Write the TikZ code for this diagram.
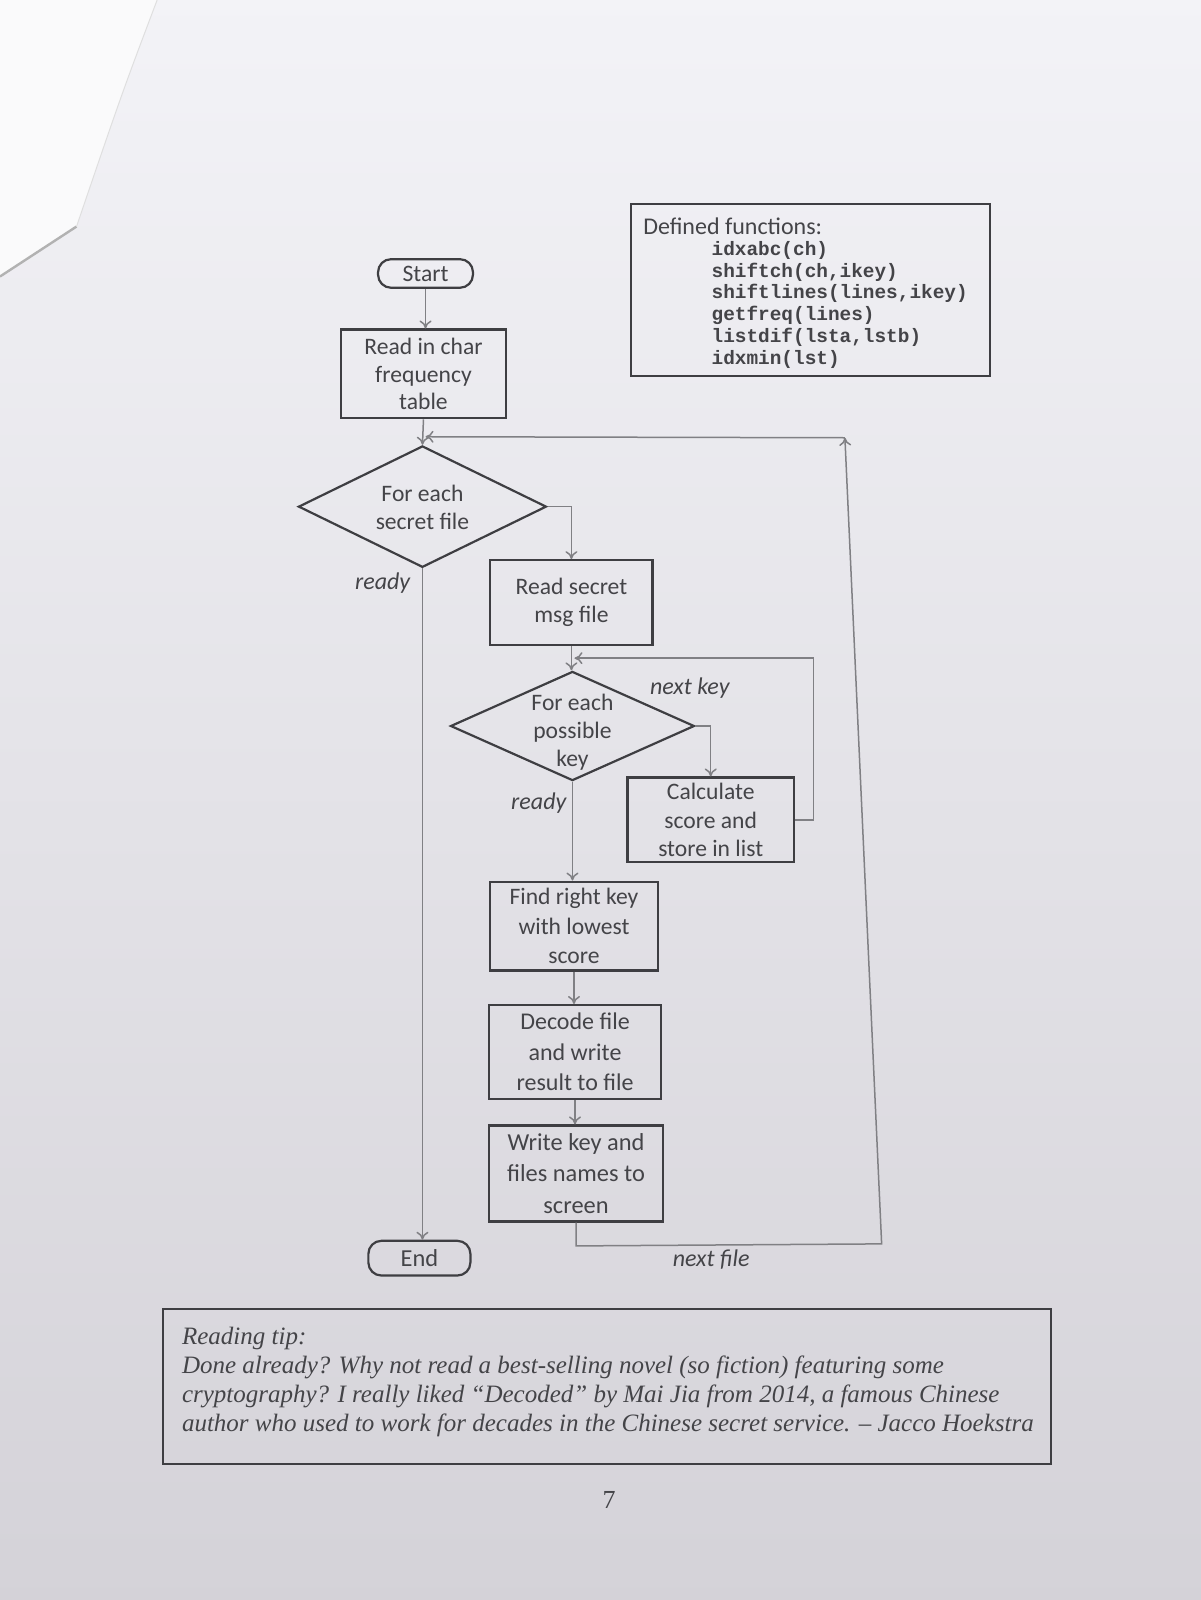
\documentclass[tikz,border=0pt]{standalone}
\usepackage{fontspec}
\setmainfont{Carlito}
\newfontfamily\tipfont{Liberation Serif}
\newfontfamily\codefont{Liberation Mono}
\usetikzlibrary{shapes.geometric,arrows.meta}
\newlength\dpx
\setlength\dpx{0.5102pt}
\definecolor{boxc}{RGB}{62,62,66}
\definecolor{txtc}{RGB}{68,68,72}
\definecolor{linec}{RGB}{128,128,132}
\definecolor{bgtop}{RGB}{243,243,247}
\definecolor{bgbot}{RGB}{212,210,216}
\begin{document}
\begin{tikzpicture}[x=0.5102pt, y=-0.5102pt,
  box/.style={draw=boxc, line width=1.1pt, inner sep=0pt, align=center, text=txtc,
    font=\fontsize{11.8}{13.8}\selectfont},
  term/.style={box, rounded corners=6.5pt},
  dia/.style={draw=boxc, line width=1.1pt, diamond, inner sep=0pt},
  txt/.style={inner sep=0pt, align=center, text=txtc, font=\fontsize{11.8}{14}\selectfont},
  conn/.style={draw=linec, line width=0.75pt},
  arr/.style={conn, -{To[length=4pt,width=6pt]}},
  lbl/.style={inner sep=0pt, text=txtc, font=\itshape\fontsize{12}{14}\selectfont},
  tipline/.style={inner sep=0pt, anchor=base west, text=txtc, font=\tipfont\itshape\fontsize{12.5}{15}\selectfont}]
\useasboundingbox (0,0) rectangle (1176,1568);
% background (photographed page)
\shade[top color=bgtop, bottom color=bgbot] (-10,-10) rectangle (1190,1580);
\fill[white!55!bgtop] (0,0) -- (154,0) .. controls (120,90) .. (75,222) -- (0,271) -- cycle;
\draw[gray!60, line width=1.2pt] (75,222) -- (0,271);
\draw[gray!25, line width=0.5pt] (154,0) .. controls (120,90) .. (75,222);

% defined functions box
\node[draw=boxc, line width=1pt, inner sep=0pt, minimum width=352\dpx, minimum height=168\dpx] (defbox) at (794,284) {};
\node[inner sep=0pt, anchor=west, text=txtc, font=\fontsize{12}{14}\selectfont] (deft) at (630,222) {Defined functions:};
\node[inner sep=0pt, anchor=north west, align=left, text=txtc, font=\codefont\bfseries\fontsize{9.7}{10.9}\selectfont] (code) at (697,236)
  {idxabc(ch)\\shiftch(ch,ikey)\\shiftlines(lines,ikey)\\getfreq(lines)\\listdif(lsta,lstb)\\idxmin(lst)};

% flowchart nodes
\node[term, minimum width=93\dpx, minimum height=28\dpx] (start) at (417,268) {Start};
\node[box, minimum width=162\dpx, minimum height=87\dpx] (readfreq) at (415,366.5) {Read in char\\frequency\\table};
\node[dia, minimum width=243\dpx, minimum height=119\dpx] (d1) at (414,496.5) {};
\node[txt] (d1t) at (414,497) {For each\\secret file};
\node[box, minimum width=159\dpx, minimum height=83\dpx] (readmsg) at (560,590.5) {Read secret\\msg file};
\node[dia, minimum width=239\dpx, minimum height=107\dpx] (d2) at (561,711.5) {};
\node[txt] (d2t) at (561,718) {For each\\possible\\key};
\node[box, minimum width=163\dpx, minimum height=83\dpx, font=\fontsize{11.8}{14.3}\selectfont] (calc) at (696.5,803.5) {Calculate\\score and\\store in list};
\node[box, minimum width=165\dpx, minimum height=87\dpx, font=\fontsize{11.8}{14.8}\selectfont] (find) at (562.5,907.5) {Find right key\\with lowest\\score};
\node[box, minimum width=169\dpx, minimum height=92\dpx, font=\fontsize{12}{15.3}\selectfont] (decode) at (563.5,1031) {Decode file\\and write\\result to file};
\node[box, minimum width=171\dpx, minimum height=94\dpx, font=\fontsize{12.2}{15.8}\selectfont] (write) at (564.5,1150) {Write key and\\files names to\\screen};
\node[term, minimum width=100\dpx, minimum height=34\dpx, font=\fontsize{12.2}{14}\selectfont] (end) at (411,1233) {End};

% labels
\node[lbl] (ready1) at (375,571) {ready};
\node[lbl] (ready2) at (528,787) {ready};
\node[lbl] (nextkey) at (676,674) {next key};
\node[lbl] (nextfile) at (697,1234) {next file};

% connectors
\coordinate (k1) at (797,645);
\coordinate (kj) at (563,645);
\coordinate (f1) at (564.5,1221);
\coordinate (f2) at (864,1219);
\coordinate (f3) at (828,429);
\coordinate (fj) at (417,428);
\draw[arr] (start.south) -- (start.south |- readfreq.north);
\draw[arr] (readfreq.south) -- (d1.north);
\draw[arr] (d1.east) -| (readmsg.north);
\draw[arr] (readmsg.south) -- (readmsg.south |- d2.north);
\draw[arr] (d2.east) -| (calc.north);
\draw[arr] (calc.east) -| (k1) -- (kj);
\draw[arr] (d2.south) -- (d2.south |- find.north);
\draw[arr] (find.south) -- (find.south |- decode.north);
\draw[arr] (decode.south) -- (decode.south |- write.north);
\draw[arr] (d1.south) -- (d1.south |- end.north);
\draw[arr] (write.south) -- (f1) -- (f2) -- (f3);
\draw[arr] (f3) -- (fj);

% reading tip
\node[draw=boxc, line width=1pt, inner sep=0pt, minimum width=870\dpx, minimum height=152\dpx] (tipbox) at (595,1359) {};
\node[tipline] (tip1) at (178,1318) {Reading tip:};
\node[tipline] (tip2) at (178,1346) {Done already? Why not read a best-selling novel (so fiction) featuring some};
\node[tipline] (tip3) at (178,1374) {cryptography? I really liked “Decoded” by Mai Jia from 2014, a famous Chinese};
\node[tipline] (tip4) at (178,1403) {author who used to work for decades in the Chinese secret service. – Jacco Hoekstra};
\node[inner sep=0pt, text=txtc, font=\tipfont\fontsize{13}{15}\selectfont] (pagenum) at (597,1470) {7};
\end{tikzpicture}
\end{document}
